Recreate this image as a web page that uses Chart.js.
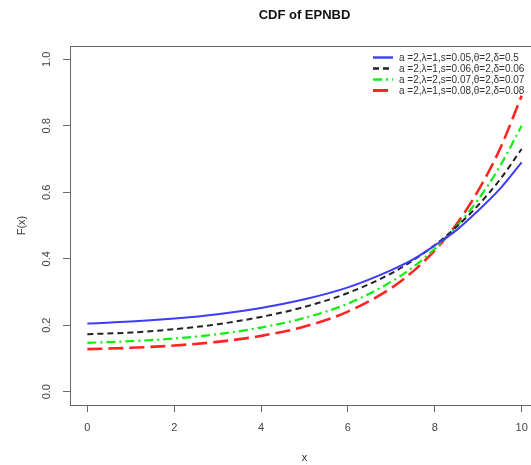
<!DOCTYPE html>
<html>
<head>
<meta charset="utf-8">
<script src="https://cdn.jsdelivr.net/npm/chart.js@4"></script>
<style>
    html, body { margin: 0; padding: 0; background: #fff; overflow: hidden; }
    #wrap { position: relative; width: 545px; height: 465px; }
</style>
</head>
<body>
<div id="wrap"><canvas id="cdfChart"></canvas></div>
<script>
// x grid and F(x) for each parameter set
const xValues  = [0, 1, 2, 3, 4, 5, 6, 7, 7.5, 8, 8.5, 9, 9.5, 10];
const cdfBlue  = [0.205, 0.211, 0.220, 0.233, 0.252, 0.278, 0.314, 0.366, 0.398, 0.440, 0.486, 0.545, 0.610, 0.690];
const cdfBlack = [0.173, 0.178, 0.188, 0.203, 0.225, 0.255, 0.297, 0.356, 0.395, 0.441, 0.496, 0.561, 0.638, 0.730];
const cdfGreen = [0.147, 0.152, 0.160, 0.173, 0.193, 0.222, 0.265, 0.331, 0.375, 0.430, 0.497, 0.578, 0.678, 0.800];
const cdfRed   = [0.128, 0.132, 0.139, 0.150, 0.168, 0.196, 0.241, 0.312, 0.362, 0.425, 0.504, 0.605, 0.730, 0.890];

const seriesLabels = [
    'a =2,λ=1,s=0.05,θ=2,δ=0.5',
    'a =2,λ=1,s=0.06,θ=2,δ=0.06',
    'a =2,λ=2,s=0.07,θ=2,δ=0.07',
    'a =2,λ=1,s=0.08,θ=2,δ=0.08'
];
const xTicks = [0, 2, 4, 6, 8, 10];
const yTicks = [0.0, 0.2, 0.4, 0.6, 0.8, 1.0];

const styles = [
    { color: '#3c3cff', dash: [],           width: 2 },
    { color: '#222222', dash: [6, 4],       width: 2 },
    { color: '#0cf00c', dash: [9, 4, 2, 4], width: 2.2 },
    { color: '#ff2424', dash: [15, 6],      width: 2.6 }
];

const toPoints = arr => arr.map((y, i) => ({ x: xValues[i], y: y }));

const datasets = [cdfBlue, cdfBlack, cdfGreen, cdfRed].map((arr, i) => ({
    label: seriesLabels[i],
    data: toPoints(arr),
    borderColor: styles[i].color,
    borderDash: styles[i].dash,
    borderWidth: styles[i].width,
    pointRadius: 0,
    cubicInterpolationMode: 'monotone',
    fill: false
}));

const FONT = 'Liberation Sans, Arial, sans-serif';

// box, rotated y labels, title and legend in R base-graphics style
const rDecor = {
    id: 'rDecor',
    afterDraw(chart) {
        const { ctx, chartArea: a, scales } = chart;
        ctx.save();

        ctx.strokeStyle = '#666';
        ctx.lineWidth = 1;
        ctx.strokeRect(Math.round(a.left) + 0.5, Math.round(a.top) + 0.5,
                       Math.round(a.right - a.left), Math.round(a.bottom - a.top));

        ctx.fillStyle = '#444';
        ctx.font = '11px ' + FONT;
        ctx.textAlign = 'center';
        ctx.textBaseline = 'middle';
        yTicks.forEach(v => {
            const py = scales.y.getPixelForValue(v);
            ctx.save();
            ctx.translate(47, py);
            ctx.rotate(-Math.PI / 2);
            ctx.fillText(v.toFixed(1), 0, 0);
            ctx.restore();
        });

        ctx.fillStyle = '#111';
        ctx.font = 'bold 13px ' + FONT;
        ctx.fillText('CDF of EPNBD', (a.left + a.right) / 2, 15);

        // legend, top right inside the box
        ctx.font = '10px ' + FONT;
        ctx.textAlign = 'left';
        chart.data.datasets.forEach((ds, i) => {
            const y = 57.5 + i * 11;
            ctx.strokeStyle = ds.borderColor;
            ctx.lineWidth = ds.borderWidth + 0.4;
            ctx.setLineDash(ds.borderDash);
            ctx.beginPath();
            ctx.moveTo(373, y);
            ctx.lineTo(393, y);
            ctx.stroke();
            ctx.setLineDash([]);
            ctx.fillStyle = '#333';
            ctx.fillText(ds.label, 399, y + 1);
        });

        ctx.restore();
    }
};

new Chart(document.getElementById('cdfChart'), {
    type: 'line',
    data: { datasets: datasets },
    options: {
        responsive: true,
        maintainAspectRatio: false,
        animation: false,
        layout: { padding: { top: 46, right: 6, left: 0, bottom: 0 } },
        plugins: {
            legend: { display: false },
            title: { display: false },
            tooltip: { enabled: false }
        },
        scales: {
            x: {
                type: 'linear',
                min: -0.4,
                max: 10.4,
                afterBuildTicks: s => { s.ticks = xTicks.map(v => ({ value: v })); },
                afterFit: s => { s.height = 60; },
                border: { display: false },
                grid: { drawOnChartArea: false, drawTicks: true, tickLength: 7, color: '#666' },
                ticks: { color: '#444', font: { family: FONT, size: 11 }, padding: 9, maxRotation: 0 },
                title: { display: true, text: 'x', color: '#333', font: { family: FONT, size: 11 }, padding: { top: 0, bottom: 0 } }
            },
            y: {
                type: 'linear',
                min: -0.04,
                max: 1.04,
                afterBuildTicks: s => { s.ticks = yTicks.map(v => ({ value: v })); },
                afterFit: s => { s.width = 70; },
                border: { display: false },
                grid: { drawOnChartArea: false, drawTicks: true, tickLength: 7, color: '#666' },
                ticks: { display: false },
                title: { display: true, text: 'F(x)', color: '#333', font: { family: FONT, size: 11 }, padding: { top: 15, bottom: 0 } }
            }
        }
    },
    plugins: [rDecor]
});
</script>
</body>
</html>
